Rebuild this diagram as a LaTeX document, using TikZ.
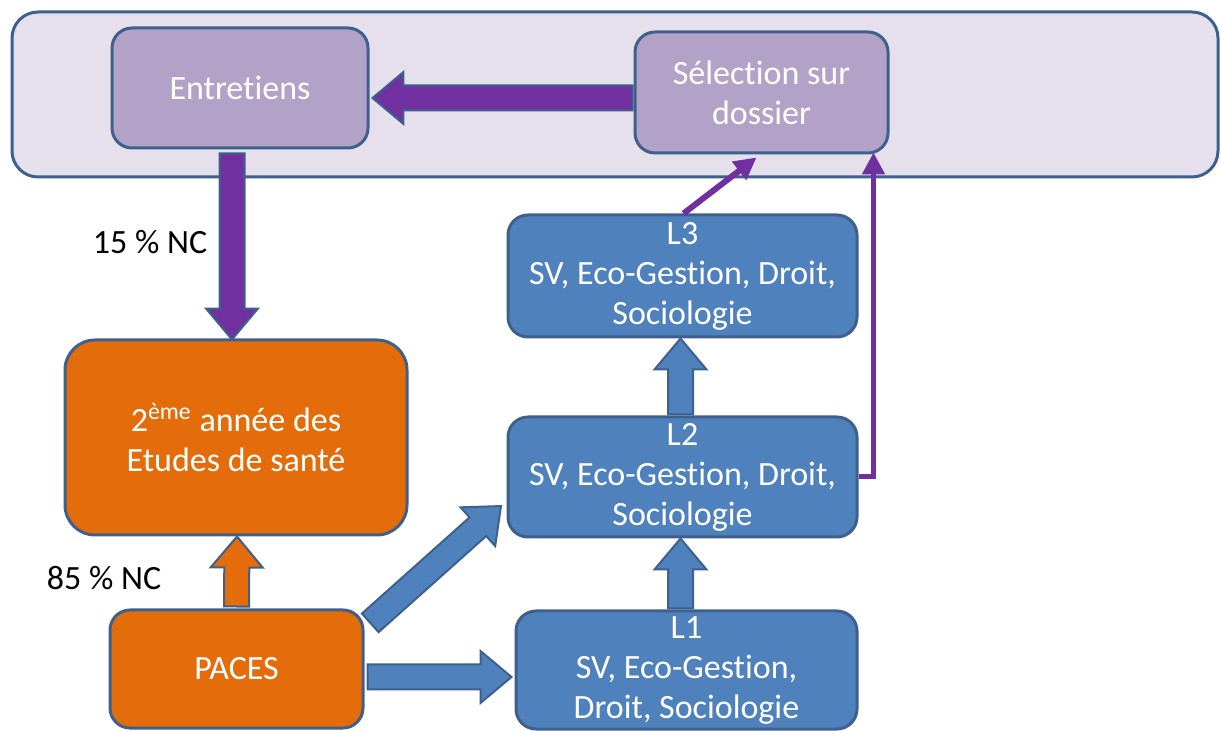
\documentclass[tikz,border=0pt]{standalone}
\usepackage{fontspec}
\setmainfont[Ligatures=NoCommon]{Carlito}
\usetikzlibrary{calc,shapes.arrows,arrows.meta}

\definecolor{edgeblue}{RGB}{62,96,140}
\definecolor{framefill}{RGB}{230,224,236}
\definecolor{lilac}{RGB}{179,162,199}
\definecolor{pathviolet}{RGB}{112,48,160}
\definecolor{pacesorange}{RGB}{228,108,10}
\definecolor{boxblue}{RGB}{79,129,189}

\tikzset{
  box/.style={draw=edgeblue, line width=1.5pt, rounded corners=10pt, text=white,
    align=center, inner sep=0pt, font=\fontsize{17}{20}\selectfont},
  frame/.style={draw=edgeblue, line width=1.5pt, rounded corners=13pt, fill=framefill},
  purplebox/.style={box, fill=lilac},
  orangebox/.style={box, fill=pacesorange},
  bluebox/.style={box, fill=boxblue},
  ratetext/.style={font=\fontsize{17}{20}\selectfont},
  fatarrow/.style={single arrow, draw=edgeblue, line width=1pt, inner xsep=0pt,
    inner ysep=5.75pt, minimum width=0pt, single arrow head extend=6.75pt,
    single arrow tip angle=80},
  thinarrow/.style={draw=pathviolet, line width=3pt,
    -{Triangle[length=11pt,width=11pt]}}
}

% fat arrow from one point to another
\newcommand{\bigarrow}[3][boxblue]{%
  \path let \p1=($(#3)-(#2)$), \n1={atan2(\y1,\x1)}, \n2={veclen(\x1,\y1)} in
    (#2) node[fatarrow, fill=#1, rotate=\n1, minimum height=\n2, anchor=tail] {};
}

\begin{document}
\begin{tikzpicture}[x=0.5pt,y=-0.5pt]
    \useasboundingbox (0,0) rectangle (1221,731);

    % the frame
    \node[frame, minimum width=603pt, minimum height=82.5pt] (frame) at (615,94.5) {};

    % the selection
    \node[purplebox, minimum width=128pt, minimum height=60pt] (entr) at (240,88) {Entretiens};
    \node[purplebox, minimum width=126.5pt, minimum height=60.5pt] (sel) at (761.5,92.5) {Sélection sur\\dossier};

    % the health studies
    \node[orangebox, rounded corners=15pt, minimum width=171pt, minimum height=97.5pt] (sante) at (236,437.5)
        {2\textsuperscript{ème} année des\\Etudes de santé};
    \node[orangebox, minimum width=126.5pt, minimum height=59pt] (paces) at (236.5,669) {PACES};

    % the licences
    \node[bluebox, minimum width=170.5pt, minimum height=59pt] (l1) at (686.5,670) {L1\\SV, Eco-Gestion,\\Droit, Sociologie};
    \node[bluebox, minimum width=174.5pt, minimum height=60pt] (l2) at (682.5,477) {L2\\SV, Eco-Gestion, Droit,\\Sociologie};
    \node[bluebox, minimum width=174.5pt, minimum height=61pt] (l3) at (682.5,276) {L3\\SV, Eco-Gestion, Droit,\\Sociologie};

    % the rates
    \node[ratetext] (p15) at (150,242) {15 \% NC};
    \node[ratetext] (p85) at (104,578) {85 \% NC};

    % ends of the fat arrows
    \coordinate (a1s) at ($(sel.west)+(0,5.5)$);
    \coordinate (a1e) at ($(entr.east)+(4,10)$);
    \coordinate (a2s) at ($(entr.south)+(-8,3)$);
    \coordinate (a2e) at ($(sante.north)+(-4,0)$);
    \coordinate (a3s) at ($(paces.north)+(0,-1)$);
    \coordinate (a3e) at ($(sante.south)+(1,1)$);
    \coordinate (a4s) at ($(paces.east)+(2,8)$);
    \coordinate (a4e) at ($(l1.west)+(-4,7)$);
    \coordinate (a5s) at ($(paces.north east)+(5,15)$);
    \coordinate (a5e) at ($(l2.south west)+(-6,-32)$);
    \coordinate (a6s) at ($(l1.north)+(-6,0)$);
    \coordinate (a6e) at ($(l2.south)+(-2,1)$);
    \coordinate (a7s) at ($(l2.north)+(-2,0)$);
    \coordinate (a7e) at ($(l3.south)+(-2,1)$);

    % fat arrows
    \bigarrow[pathviolet]{a1s}{a1e}
    \bigarrow[pathviolet]{a2s}{a2e}
    \bigarrow[pacesorange]{a3s}{a3e}
    \bigarrow{a4s}{a4e}
    \bigarrow{a5s}{a5e}
    \bigarrow{a6s}{a6e}
    \bigarrow{a7s}{a7e}

    % thin arrows
    \draw[thinarrow] ($(l3.north)+(1,0)$) -- ($(sel.south)+(-5,3)$);
    \draw[thinarrow, line width=2.5pt] (l2.east) -| ($(sel.south east)+(-16,-2)$);
\end{tikzpicture}
\end{document}
